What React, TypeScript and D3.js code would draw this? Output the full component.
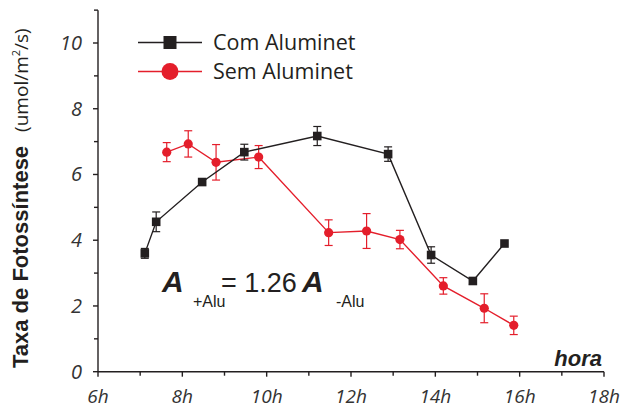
import React from "react";
import * as d3 from "d3";

const hoursCom = [7.11, 7.38, 8.47, 9.47, 11.2, 12.88, 13.9, 14.89, 15.64];
const valuesCom = [3.6, 4.56, 5.77, 6.68, 7.17, 6.62, 3.55, 2.76, 3.9];
const errCom = [0.15, 0.3, 0.0, 0.24, 0.29, 0.22, 0.25, 0.1, 0.0];

const hoursSem = [7.63, 8.14, 8.8, 9.81, 11.47, 12.37, 13.16, 14.19, 15.16, 15.86];
const valuesSem = [6.68, 6.93, 6.37, 6.53, 4.23, 4.28, 4.02, 2.61, 1.93, 1.41];
const errSem = [0.29, 0.4, 0.54, 0.35, 0.39, 0.53, 0.28, 0.25, 0.44, 0.28];

const xTicks = [6, 8, 10, 12, 14, 16, 18];
const xTickLabels = ["6h", "8h", "10h", "12h", "14h", "16h", "18h"];
const yTicks = [0, 2, 4, 6, 8, 10];

const seriesNames = ["Com Aluminet", "Sem Aluminet"];
const RED = "#e41e2b";
const BLACK = "#231f20";
const FONT = "'Open Sans', 'Noto Sans', sans-serif";
const ARIAL = "'Liberation Sans', Arial, sans-serif";

export default function App() {
  const W = 622, H = 410;
  const x = d3.scaleLinear().domain([6, 18]).range([98, 604]);
  const y = d3.scaleLinear().domain([0, 10]).range([371.7, 43]);
  const line = d3.line<[number, number]>().x(d => x(d[0])).y(d => y(d[1]));
  const com: [number, number][] = hoursCom.map((h, i) => [h, valuesCom[i]]);
  const sem: [number, number][] = hoursSem.map((h, i) => [h, valuesSem[i]]);
  const minorX = d3.range(7, 18, 2);
  const minorY = d3.range(1, 12, 2);

  const errBar = (h: number, v: number, e: number, color: string, key: string) => {
    if (e <= 0) return null;
    const cx = x(h);
    const y1 = y(v + e), y2 = y(v - e);
    return (
      <g key={key} stroke={color} strokeWidth={1.2}>
        <line x1={cx} x2={cx} y1={y1} y2={y2} />
        <line x1={cx - 4} x2={cx + 4} y1={y1} y2={y1} />
        <line x1={cx - 4} x2={cx + 4} y1={y2} y2={y2} />
      </g>
    );
  };

  return (
    <svg width={W} height={H} style={{ position: "absolute", left: 0, top: 0, background: "#fff" }}>
      {/* axes */}
      <g stroke={BLACK} strokeWidth={1.4} fill="none">
        <line x1={x(6)} x2={x(6)} y1={y(11)} y2={y(0)} />
        <line x1={x(6)} x2={x(18)} y1={y(0)} y2={y(0)} />
        {yTicks.map(t => (
          <line key={"yt" + t} x1={x(6) - 5} x2={x(6)} y1={y(t)} y2={y(t)} />
        ))}
        {minorY.map(t => (
          <line key={"ym" + t} x1={x(6) - 4} x2={x(6)} y1={y(t)} y2={y(t)} />
        ))}
        {xTicks.map(t => (
          <line key={"xt" + t} x1={x(t)} x2={x(t)} y1={y(0)} y2={y(0) + 5} />
        ))}
        {minorX.map(t => (
          <line key={"xm" + t} x1={x(t)} x2={x(t)} y1={y(0)} y2={y(0) + 4} />
        ))}
      </g>
      {yTicks.map(t => (
        <text key={"yl" + t} x={x(6) - 16} y={y(t) + 7} textAnchor="end" fontFamily={FONT}
          fontStyle="italic" fontSize={20} fill="#333">{t}</text>
      ))}
      {xTicks.map((t, i) => (
        <text key={"xl" + t} x={x(t)} y={403} textAnchor="middle" fontFamily={FONT}
          fontStyle="italic" fontSize={19} fill="#333">{xTickLabels[i]}</text>
      ))}
      <text x={602} y={366} textAnchor="end" fontFamily={ARIAL}
        fontStyle="italic" fontWeight="bold" fontSize={22} fill={BLACK}>hora</text>

      {/* y axis title */}
      <text transform="translate(28,368) rotate(-90)" fontFamily={FONT} fill={BLACK}>
        <tspan fontFamily={ARIAL} fontWeight="bold" fontSize={22}>Taxa de Fotossíntese</tspan>
        <tspan fontSize={19} dx={14}>(umol/m</tspan>
        <tspan fontSize={11} dy={-8}>2</tspan>
        <tspan fontSize={19} dy={8}>/s)</tspan>
      </text>

      {/* series Sem */}
      <path d={line(sem) || ""} fill="none" stroke={RED} strokeWidth={1.4} />
      {sem.map((d, i) => errBar(d[0], d[1], errSem[i], RED, "es" + i))}
      {sem.map((d, i) => (
        <circle key={"cs" + i} cx={x(d[0])} cy={y(d[1])} r={4.6} fill={RED} />
      ))}

      {/* series Com */}
      <path d={line(com) || ""} fill="none" stroke={BLACK} strokeWidth={1.4} />
      {com.map((d, i) => errBar(d[0], d[1], errCom[i], BLACK, "ec" + i))}
      {com.map((d, i) => (
        <rect key={"rc" + i} x={x(d[0]) - 4.3} y={y(d[1]) - 4.3} width={8.6} height={8.6} fill={BLACK} />
      ))}

      {/* legend */}
      <g>
        <line x1={138} x2={202} y1={42.5} y2={42.5} stroke={BLACK} strokeWidth={1.4} />
        <rect x={170 - 6.5} y={42.5 - 6.5} width={13} height={13} fill={BLACK} />
        <text x={213} y={50} fontFamily={FONT} fontSize={21.5} fill={BLACK}>{seriesNames[0]}</text>
        <line x1={138} x2={202} y1={71.5} y2={71.5} stroke={RED} strokeWidth={1.4} />
        <circle cx={170} cy={71.5} r={8.5} fill={RED} />
        <text x={213} y={79} fontFamily={FONT} fontSize={21.5} fill={BLACK}>{seriesNames[1]}</text>
      </g>

      {/* annotation */}
      <g fontFamily={ARIAL} fill={BLACK}>
        <text x={162} y={292} fontSize={30} fontWeight="bold" fontStyle="italic">A</text>
        <text x={193} y={307} fontSize={16}>+Alu</text>
        <text x={221} y={292} fontSize={27}>= 1.26</text>
        <text x={302} y={292} fontSize={30} fontWeight="bold" fontStyle="italic">A</text>
        <text x={336} y={307} fontSize={16}>-Alu</text>
      </g>
    </svg>
  );
}
